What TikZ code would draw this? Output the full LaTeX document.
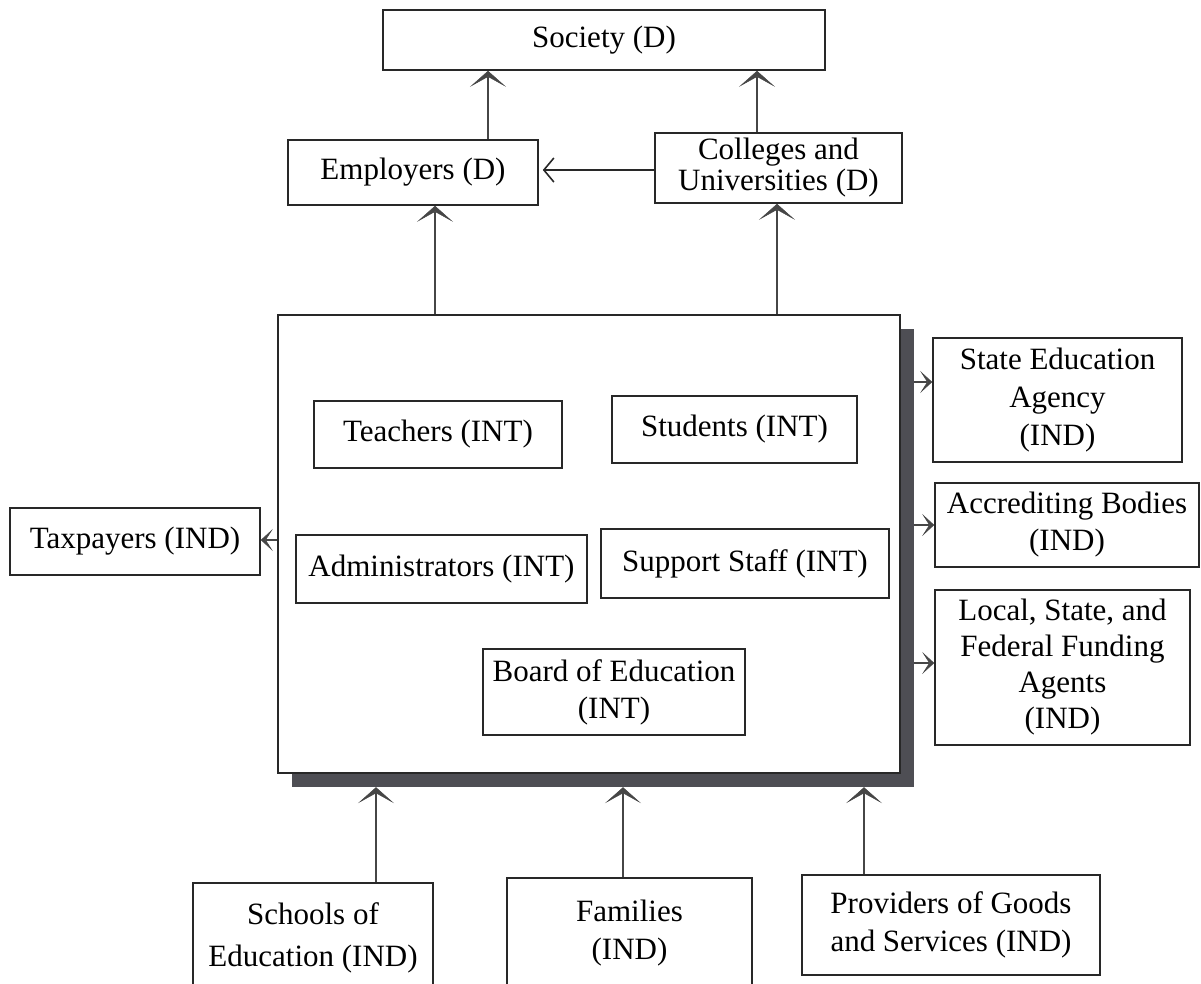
\documentclass[tikz,border=0pt]{standalone}
\usepackage{fontspec}
\setmainfont{Liberation Serif}
\usetikzlibrary{arrows.meta}
\definecolor{shadowgray}{RGB}{78,78,84}
\definecolor{inkgray}{RGB}{40,40,40}
\definecolor{linegray}{RGB}{70,70,70}
\tikzset{
  box/.style={draw=inkgray, line width=1.6pt, fill=white, align=center, inner sep=2pt,
              font=\fontsize{31}{37}\selectfont},
  uparrow/.style={draw=linegray, line width=1.6pt,
     -{Stealth[length=16pt,width=36pt,inset=10pt,line width=0.5pt,fill=linegray]}},
  sidearrow/.style={draw=linegray, line width=1.8pt,
     -{Stealth[length=12pt,width=22pt,inset=7pt,line width=0.5pt,fill=linegray]}},
  thinarrow/.style={draw=inkgray, line width=1.6pt, -{Straight Barb[length=10pt,width=24pt,line width=1.6pt]}}
}
\begin{document}
\begin{tikzpicture}[x=1pt,y=-1pt]
\clip (0,0) rectangle (1201,983);
\fill[white] (0,0) rectangle (1201,983);

% top level
\node[box, minimum width=442pt, minimum height=60pt] (society) at (604,40) {Society (D)};
\node[box, minimum width=250pt, minimum height=65pt] (employers) at (413,172.5) {Employers (D)};
\node[box, minimum width=247pt, minimum height=70pt, font=\fontsize{31}{31}\selectfont] (colleges) at (778.5,168) {Colleges and\\Universities (D)};

% main box with shadow
\node[fill=shadowgray, minimum width=622pt, minimum height=458pt, inner sep=0pt] (shadow) at (603,558) {};
\node[box, minimum width=622pt, minimum height=458pt, inner sep=0pt] (main) at (589,544) {};

\node[box, minimum width=248pt, minimum height=67pt] (teachers) at (438,434.5) {Teachers (INT)};
\node[box, minimum width=245pt, minimum height=67pt] (students) at (734.5,429.5) {Students (INT)};
\node[box, minimum width=291pt, minimum height=68pt] (admin) at (441.5,569) {Administrators (INT)};
\node[box, minimum width=288pt, minimum height=69pt] (support) at (745,563.5) {Support Staff (INT)};
\node[box, minimum width=262pt, minimum height=86pt] (board) at (614,692) {Board of Education\\(INT)};

% left
\node[box, minimum width=250pt, minimum height=67pt] (taxpayers) at (135,541.5) {Taxpayers (IND)};

% right
\node[box, minimum width=249pt, minimum height=124pt, font=\fontsize{31}{38}\selectfont] (state) at (1057.5,400) {State Education\\Agency\\(IND)};
\node[box, minimum width=264pt, minimum height=84pt] (accred) at (1067,525) {Accrediting Bodies\\(IND)};
\node[box, minimum width=255pt, minimum height=155pt, font=\fontsize{31}{36}\selectfont] (local) at (1062.5,667.5) {Local, State, and\\Federal Funding\\Agents\\(IND)};

% bottom
\node[box, minimum width=240pt, minimum height=110pt, font=\fontsize{31}{42}\selectfont] (schools) at (313,938) {Schools of\\Education (IND)};
\node[box, minimum width=245pt, minimum height=110pt, font=\fontsize{31}{38}\selectfont] (families) at (629.5,933) {Families\\(IND)};
\node[box, minimum width=298pt, minimum height=100pt, font=\fontsize{31}{38}\selectfont] (providers) at (951,925) {Providers of Goods\\and Services (IND)};

% connector guide coordinates
\coordinate (xes) at (488,0);
\coordinate (xcs) at (757,0);
\coordinate (xme) at (435,0);
\coordinate (xmc) at (777,0);
\coordinate (yce) at (0,170);
\coordinate (ytax) at (0,540);
\coordinate (yst) at (0,382);
\coordinate (yac) at (0,525);
\coordinate (ylo) at (0,663);
\coordinate (xsc) at (376,0);
\coordinate (xfa) at (623,0);
\coordinate (xpr) at (864,0);

% connectors
\draw[uparrow] (employers.north -| xes) -- (society.south -| xes);
\draw[uparrow] (colleges.north -| xcs) -- (society.south -| xcs);
\draw[thinarrow] (colleges.west |- yce) -- ([xshift=4pt]employers.east |- yce);
\draw[uparrow] (main.north -| xme) -- (employers.south -| xme);
\draw[uparrow] (main.north -| xmc) -- (colleges.south -| xmc);
\draw[sidearrow] (main.west |- ytax) -- (taxpayers.east |- ytax);
\draw[sidearrow] (shadow.east |- yst) -- (state.west |- yst);
\draw[sidearrow] (shadow.east |- yac) -- (accred.west |- yac);
\draw[sidearrow] (shadow.east |- ylo) -- (local.west |- ylo);
\draw[uparrow] (schools.north -| xsc) -- (shadow.south -| xsc);
\draw[uparrow] (families.north -| xfa) -- (shadow.south -| xfa);
\draw[uparrow] (providers.north -| xpr) -- (shadow.south -| xpr);
\end{tikzpicture}
\end{document}
